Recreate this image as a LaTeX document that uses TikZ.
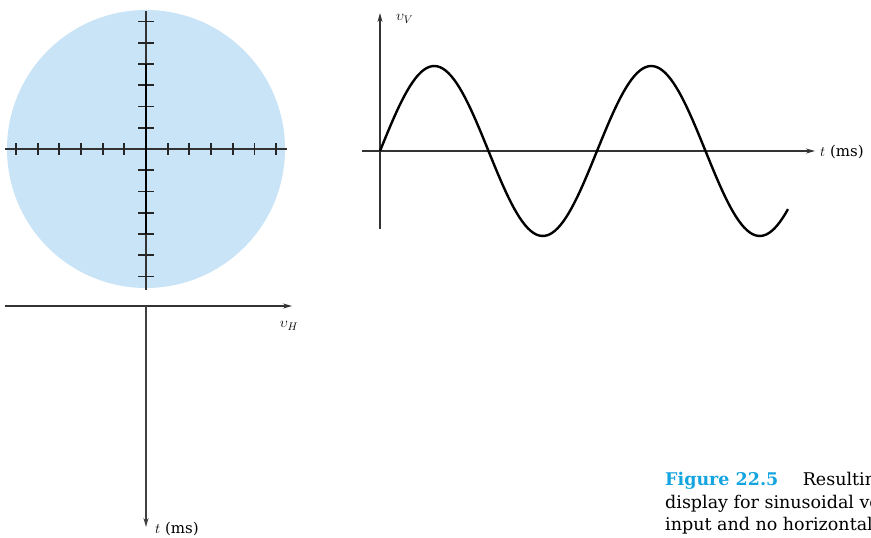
\documentclass[tikz,border=0pt]{standalone}
\usepackage{fontspec}
\setmainfont{DejaVu Serif}
\usetikzlibrary{arrows.meta}
\definecolor{screenblue}{RGB}{201,228,247}
\definecolor{figblue}{RGB}{20,165,225}
\begin{document}
\begin{tikzpicture}[x=1pt,y=-1pt,
    axis/.style={draw=black!80,line width=1.1pt},
    arr/.style={axis,-{Stealth[length=9pt,width=5pt]}},
    tick/.style={draw=black!85,line width=1.7pt},
    trace/.style={black,line width=2.6pt},
    lbl/.style={font=\fontsize{15}{17}\selectfont,inner sep=1pt},
    every node/.style={font=\fontsize{17.5}{22.5}\selectfont}]
  \path[use as bounding box,clip] (0,0) rectangle (871,538);
  % screen
  \fill[screenblue] (146,149) circle (139);
  \coordinate (xl) at (5,149);
  \coordinate (xr) at (287,149);
  \coordinate (yt) at (146,11);
  \coordinate (yb) at (146,290);
  \draw[axis] (xl) -- (xr);
  \draw[axis] (yt) -- (yb);
  \foreach \k in {-6,...,-1,1,2,...,6}{
    \draw[tick] ({146+21.67*\k},143) -- ++(0,12);
    \draw[tick] (138,{149+21.25*\k}) -- ++(16,0);
  }
  % vertical trace on the screen
  \coordinate (ta) at (146,64);
  \coordinate (tb) at (146,234);
  \draw[trace] (ta) -- (tb);
  % horizontal input and time
  \coordinate (hl) at (5,306);
  \coordinate (hr) at (292,306);
  \draw[arr] (hl) -- (hr);
  \node[lbl] (vh) at (289,326) {$\upsilon_H$};
  \coordinate (st) at (146,306);
  \coordinate (sb) at (146,527);
  \draw[arr,line width=2pt,draw=black!75] (st) -- (sb);
  \node[lbl,anchor=base west] (tdown) at (154,533) {$t$ (ms)};
  % vertical input
  \coordinate (vb) at (380,229);
  \coordinate (vt) at (380,13);
  \draw[arr] (vb) -- (vt);
  \node[lbl,anchor=west] (vv) at (395,19) {$\upsilon_V$};
  \coordinate (wl) at (362,151);
  \coordinate (wr) at (815,151);
  \draw[arr] (wl) -- (wr);
  \node[lbl,anchor=west] (tright) at (819,152) {$t$ (ms)};
  \draw[trace,line width=2.4pt] plot[domain=0:408,samples=150]
    ({380+\x},{151-85*sin(\x/217*360)});
  % caption
  \node[anchor=north west,align=left,inner sep=0pt] (cap) at (665,472)
    {\textcolor{figblue}{\textbf{Figure 22.5}}\hspace{1.4em}Resulting\\
     display for sinusoidal vertical\\
     input and no horizontal input.};
\end{tikzpicture}
\end{document}
